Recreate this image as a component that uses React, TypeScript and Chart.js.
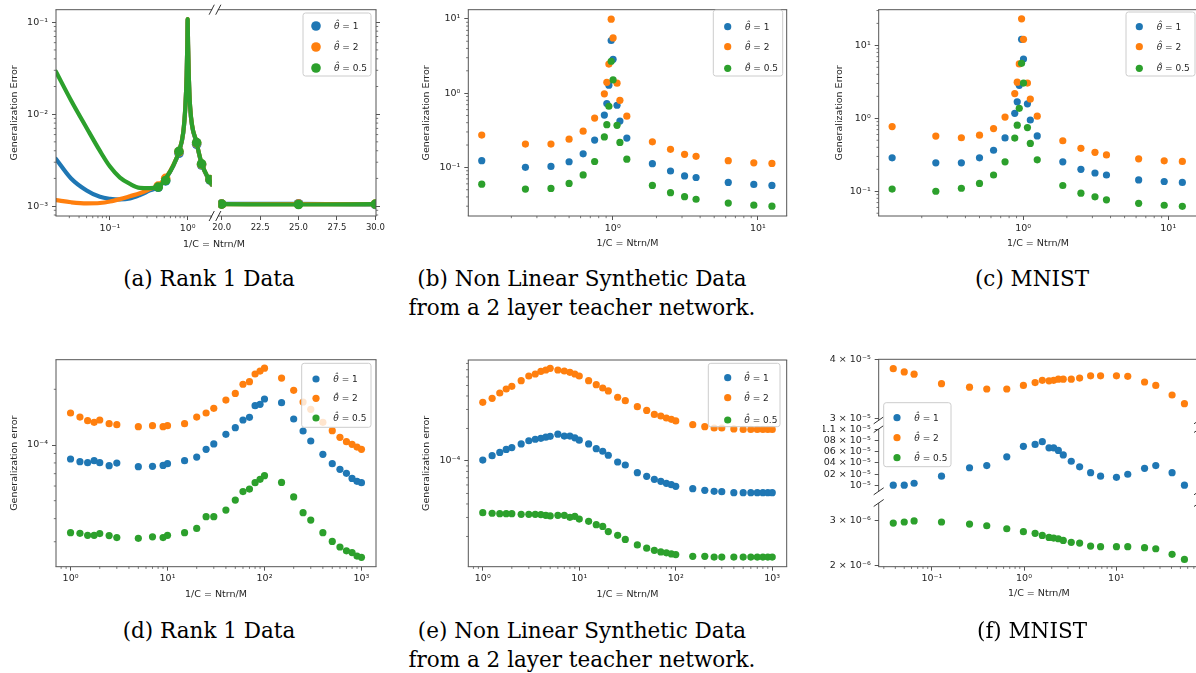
import React, { useEffect, useRef } from 'react';
import { Chart, registerables } from 'chart.js';

Chart.register(...registerables);

const FONT = "'DejaVu Sans', sans-serif";
const TICK_SIZE = 8.5;
const LOG_TICK_SIZE = 9.5;
const LEGEND_SIZE = 9;
const TITLE_SIZE = 9.5;
const TEXT = '#262626';
const SPINE = '#555555';
const BLUE = '#1f77b4';
const ORANGE = '#ff7f0e';
const GREEN = '#2ca02c';

Chart.defaults.font.family = FONT;
Chart.defaults.font.size = TICK_SIZE;
Chart.defaults.color = TEXT;

// ================= DATA =================
const legendLabels = ['1', '2', '0.5'];
const legendColors = [BLUE, ORANGE, GREEN];

// ---- (a) Rank 1 Data : theory curves + simulation markers ----
const aCurveX = [0.0202, 0.0316, 0.0501, 0.0743, 0.1, 0.1345, 0.181, 0.243, 0.327, 0.42, 0.537, 0.653, 0.773, 0.877, 0.935, 0.97, 0.99, 1.0, 1.012, 1.035, 1.075, 1.306, 1.51, 1.94, 2.04];
const aBlueCurve = [3.26e-3, 2.0e-3, 1.48e-3, 1.26e-3, 1.2e-3, 1.18e-3, 1.21e-3, 1.32e-3, 1.48e-3, 1.61e-3, 2.06e-3, 2.74e-3, 3.88e-3, 6.2e-3, 0.012, 0.0257, 0.057, 0.107, 0.057, 0.0257, 0.012, 4.85e-3, 2.9e-3, 1.83e-3, 1.7e-3];
const aOrangeCurve = [1.16e-3, 1.1e-3, 1.07e-3, 1.08e-3, 1.12e-3, 1.19e-3, 1.28e-3, 1.38e-3, 1.53e-3, 1.68e-3, 2.1e-3, 2.78e-3, 3.95e-3, 6.3e-3, 0.0122, 0.026, 0.058, 0.108, 0.058, 0.026, 0.0122, 4.9e-3, 2.93e-3, 1.84e-3, 1.71e-3];
const aGreenCurve = [0.029, 0.0141, 7.08e-3, 3.98e-3, 2.69e-3, 2.04e-3, 1.74e-3, 1.58e-3, 1.57e-3, 1.62e-3, 2.07e-3, 2.76e-3, 3.94e-3, 6.3e-3, 0.0122, 0.026, 0.058, 0.108, 0.058, 0.026, 0.0122, 4.91e-3, 2.95e-3, 1.85e-3, 1.72e-3];
const aMarkX = [0.418, 0.521, 0.773, 1.306, 1.51, 1.94];
const aBlueMark = [1.6e-3, 1.88e-3, 3.75e-3, 4.7e-3, 2.8e-3, 1.92e-3];
const aOrangeMark = [1.65e-3, 2.0e-3, 3.9e-3, 4.85e-3, 2.85e-3, 1.95e-3];
const aGreenMark = [1.61e-3, 1.9e-3, 3.94e-3, 4.91e-3, 2.88e-3, 1.94e-3];
const aRightX = [20, 25, 30];
const aBlueRight = [1.055e-3, 1.06e-3, 1.04e-3];
const aOrangeRight = [1.05e-3, 1.05e-3, 1.05e-3];
const aGreenRight = [1.05e-3, 1.04e-3, 1.05e-3];
const aXTicks = [0.1, 1];
const aXLabels = ['10⁻¹', '10⁰'];
const aRightXTicks = [20, 22.5, 25, 27.5, 30];
const aRightXLabels = ['20.0', '22.5', '25.0', '27.5', '30.0'];
const aYTicks = [1e-3, 1e-2, 1e-1];
const aYLabels = ['10⁻³', '10⁻²', '10⁻¹'];

// ---- (b) / (c) shared x values ----
const bcX = [0.125, 0.25, 0.375, 0.5, 0.625, 0.75, 0.875, 0.91, 0.94, 0.975, 1.005, 1.07, 1.12, 1.25, 1.875, 2.5, 3.125, 3.75, 6.25, 9.375, 12.5];
const bcXTicks = [1, 10];
const bcXLabels = ['10⁰', '10¹'];
const bcYTicks = [0.1, 1, 10];
const bcYLabels = ['10⁻¹', '10⁰', '10¹'];

// ---- (b) Non linear synthetic data ----
const bBlue = [0.123, 0.1, 0.103, 0.119, 0.152, 0.233, 0.506, 0.723, 1.28, 5.12, 2.86, 0.687, 0.421, 0.248, 0.112, 0.0893, 0.0766, 0.073, 0.0626, 0.0589, 0.0571];
const bOrange = [0.272, 0.206, 0.206, 0.24, 0.307, 0.461, 0.98, 1.4, 2.46, 9.9, 5.54, 1.36, 0.8, 0.49, 0.221, 0.175, 0.15, 0.141, 0.123, 0.115, 0.113];
const bGreen = [0.0594, 0.051, 0.052, 0.0607, 0.079, 0.12, 0.257, 0.376, 0.666, 2.69, 1.51, 0.369, 0.217, 0.129, 0.0571, 0.0456, 0.0403, 0.0372, 0.033, 0.031, 0.03];

// ---- (c) MNIST ----
const cBlue = [0.287, 0.245, 0.245, 0.287, 0.365, 0.538, 1.17, 1.68, 2.83, 12.1, 6.5, 1.58, 0.948, 0.573, 0.253, 0.2, 0.178, 0.167, 0.143, 0.136, 0.132];
const cOrange = [0.77, 0.57, 0.541, 0.588, 0.724, 1.04, 2.18, 3.13, 5.56, 23.1, 12.1, 3.04, 1.84, 1.07, 0.492, 0.388, 0.342, 0.315, 0.278, 0.261, 0.256];
const cGreen = [0.107, 0.1, 0.11, 0.128, 0.167, 0.253, 0.536, 0.804, 1.37, 5.67, 3.04, 0.746, 0.453, 0.27, 0.12, 0.0942, 0.084, 0.0764, 0.0684, 0.0643, 0.0622];

// ---- (d) Rank 1 data ----
const dX = [1, 1.25, 1.5, 1.75, 2, 2.5, 3, 5, 7, 9, 10, 15, 20, 25, 30, 40, 50, 60, 70, 80, 90, 100, 150, 200, 250, 300, 400, 500, 600, 700, 800, 900, 1000];
const dOrange = [1.489e-4, 1.416e-4, 1.354e-4, 1.326e-4, 1.365e-4, 1.304e-4, 1.288e-4, 1.256e-4, 1.272e-4, 1.256e-4, 1.272e-4, 1.304e-4, 1.416e-4, 1.489e-4, 1.578e-4, 1.75e-4, 1.9e-4, 2.13e-4, 2.2e-4, 2.42e-4, 2.51e-4, 2.6e-4, 2.3e-4, 1.975e-4, 1.708e-4, 1.558e-4, 1.326e-4, 1.195e-4, 1.1e-4, 1.042e-4, 1.008e-4, 0.975e-4, 0.948e-4];
const dBlue = [8.4e-5, 8.13e-5, 8.03e-5, 8.23e-5, 8.03e-5, 7.73e-5, 7.99e-5, 7.64e-5, 7.67e-5, 7.76e-5, 7.93e-5, 8.23e-5, 8.61e-5, 9.48e-5, 10.13e-5, 11.42e-5, 12.41e-5, 13.65e-5, 14.11e-5, 16.32e-5, 16.59e-5, 17.73e-5, 16.94e-5, 13.82e-5, 11.9e-5, 10.51e-5, 8.9e-5, 7.93e-5, 7.39e-5, 7.03e-5, 6.6e-5, 6.36e-5, 6.26e-5];
const dGreen = [3.36e-5, 3.33e-5, 3.25e-5, 3.25e-5, 3.32e-5, 3.24e-5, 3.16e-5, 3.13e-5, 3.19e-5, 3.16e-5, 3.25e-5, 3.36e-5, 3.54e-5, 4.1e-5, 4.1e-5, 4.45e-5, 5.04e-5, 5.6e-5, 5.78e-5, 6.26e-5, 6.52e-5, 6.83e-5, 6.28e-5, 5.24e-5, 4.31e-5, 3.93e-5, 3.36e-5, 3.01e-5, 2.81e-5, 2.68e-5, 2.62e-5, 2.51e-5, 2.47e-5];
const deXTicks = [1, 10, 100, 1000];
const deXLabels = ['10⁰', '10¹', '10²', '10³'];
const deYTicks = [1e-4];
const deYLabels = ['10⁻⁴'];

// ---- (e) Non linear synthetic data ----
const eX = [1, 1.25, 1.5, 1.75, 2, 2.5, 3, 3.5, 4, 4.5, 5, 6, 7, 8, 9, 10, 12.5, 15, 17.5, 20, 25, 30, 40, 50, 60, 70, 80, 90, 100, 150, 200, 250, 300, 400, 500, 600, 700, 800, 900, 1000];
const eOrange = [3.49e-4, 3.8e-4, 4.26e-4, 4.64e-4, 4.91e-4, 5.54e-4, 6.12e-4, 6.39e-4, 6.77e-4, 6.96e-4, 7.21e-4, 6.96e-4, 6.81e-4, 6.62e-4, 6.39e-4, 6.12e-4, 5.54e-4, 5.09e-4, 4.74e-4, 4.45e-4, 3.89e-4, 3.62e-4, 3.18e-4, 2.94e-4, 2.7e-4, 2.61e-4, 2.5e-4, 2.43e-4, 2.35e-4, 2.17e-4, 2.08e-4, 2.02e-4, 2.02e-4, 1.98e-4, 1.96e-4, 1.96e-4, 1.96e-4, 1.96e-4, 1.96e-4, 1.96e-4];
const eBlue = [1.02e-4, 1.12e-4, 1.2e-4, 1.28e-4, 1.33e-4, 1.44e-4, 1.54e-4, 1.59e-4, 1.62e-4, 1.66e-4, 1.69e-4, 1.77e-4, 1.7e-4, 1.7e-4, 1.64e-4, 1.56e-4, 1.44e-4, 1.3e-4, 1.23e-4, 1.13e-4, 0.979e-4, 0.918e-4, 0.78e-4, 0.721e-4, 0.676e-4, 0.648e-4, 0.621e-4, 0.604e-4, 0.582e-4, 0.554e-4, 0.535e-4, 0.524e-4, 0.52e-4, 0.509e-4, 0.509e-4, 0.509e-4, 0.509e-4, 0.509e-4, 0.509e-4, 0.509e-4];
const eGreen = [3.32e-5, 3.28e-5, 3.25e-5, 3.25e-5, 3.25e-5, 3.21e-5, 3.21e-5, 3.21e-5, 3.19e-5, 3.14e-5, 3.1e-5, 3.14e-5, 3.14e-5, 3.01e-5, 3.07e-5, 2.9e-5, 2.76e-5, 2.57e-5, 2.48e-5, 2.22e-5, 2.05e-5, 1.88e-5, 1.67e-5, 1.56e-5, 1.49e-5, 1.44e-5, 1.41e-5, 1.38e-5, 1.36e-5, 1.31e-5, 1.31e-5, 1.29e-5, 1.29e-5, 1.29e-5, 1.29e-5, 1.29e-5, 1.29e-5, 1.29e-5, 1.29e-5, 1.29e-5];

// ---- (f) MNIST (broken y axis) ----
const fX = [0.038, 0.05, 0.064, 0.127, 0.256, 0.394, 0.65, 0.985, 1.32, 1.58, 1.87, 2.1, 2.36, 2.67, 3.26, 4.02, 5.29, 6.79, 10.1, 13.4, 20.4, 27, 40.6, 55.3];
const fOrange = [3.82e-5, 3.76e-5, 3.72e-5, 3.55e-5, 3.49e-5, 3.46e-5, 3.46e-5, 3.52e-5, 3.57e-5, 3.61e-5, 3.6e-5, 3.61e-5, 3.63e-5, 3.63e-5, 3.63e-5, 3.65e-5, 3.69e-5, 3.69e-5, 3.69e-5, 3.68e-5, 3.58e-5, 3.52e-5, 3.36e-5, 3.22e-5];
const fBlue = [1.001e-5, 1.001e-5, 1.0042e-5, 1.0165e-5, 1.0312e-5, 1.035e-5, 1.0505e-5, 1.0696e-5, 1.0731e-5, 1.0782e-5, 1.0668e-5, 1.0668e-5, 1.0622e-5, 1.0539e-5, 1.0427e-5, 1.0328e-5, 1.0225e-5, 1.0165e-5, 1.0144e-5, 1.0198e-5, 1.0301e-5, 1.035e-5, 1.0225e-5, 1.001e-5];
const fGreen = [2.938e-6, 2.965e-6, 2.993e-6, 2.965e-6, 2.911e-6, 2.868e-6, 2.792e-6, 2.719e-6, 2.679e-6, 2.63e-6, 2.583e-6, 2.568e-6, 2.553e-6, 2.515e-6, 2.471e-6, 2.456e-6, 2.391e-6, 2.377e-6, 2.377e-6, 2.377e-6, 2.356e-6, 2.334e-6, 2.22e-6, 2.122e-6];
const fXTicks = [0.1, 1, 10];
const fXLabels = ['10⁻¹', '10⁰', '10¹'];
const fTopTicks = [3e-5, 4e-5];
const fTopLabels = ['3 × 10⁻⁵', '4 × 10⁻⁵'];
const fMidTicks = [1e-5, 1.02e-5, 1.04e-5, 1.06e-5, 1.08e-5, 1.1e-5];
const fMidLabels = ['10⁻⁵', '1.02 × 10⁻⁵', '1.04 × 10⁻⁵', '1.06 × 10⁻⁵', '1.08 × 10⁻⁵', '1.1 × 10⁻⁵'];
const fBotTicks = [2e-6, 3e-6];
const fBotLabels = ['2 × 10⁻⁶', '3 × 10⁻⁶'];

// ================= HELPERS =================
function logMinors(lo: number, hi: number): number[] {
  const out: number[] = [];
  for (let e = Math.floor(Math.log10(lo)); e <= Math.ceil(Math.log10(hi)); e++) {
    for (let k = 2; k <= 9; k++) {
      const v = k * Math.pow(10, e);
      if (v >= lo && v <= hi) out.push(v);
    }
  }
  return out;
}

const pts = (xs: number[], ys: number[]) => xs.map((x, i) => ({ x, y: ys[i] }));

function dots(xs: number[], ys: number[], color: string, order: number, r = 3.6) {
  return {
    data: pts(xs, ys), showLine: false, order,
    pointRadius: r, pointHoverRadius: r,
    pointBackgroundColor: color, pointBorderColor: color, pointBorderWidth: 0,
  };
}

function curve(xs: number[], ys: number[], color: string, order: number) {
  return {
    data: pts(xs, ys), showLine: true, order, fill: false,
    borderColor: color, borderWidth: 4.2, pointRadius: 0, pointHoverRadius: 0,
    cubicInterpolationMode: 'monotone', borderCapStyle: 'round', borderJoinStyle: 'round',
  };
}

function axisOptions(a: any, horizontal: boolean) {
  return {
    type: a.log ? 'logarithmic' : 'linear',
    position: a.position,
    display: a.display !== false,
    min: a.min,
    max: a.max,
    bounds: 'data',
    grid: { display: true, drawOnChartArea: false, drawTicks: true, tickLength: 4, tickWidth: 1, tickColor: SPINE },
    border: { display: false },
    ticks: {
      autoSkip: false, maxRotation: 0, minRotation: 0,
      padding: horizontal ? 2.5 : 4,
      color: TEXT,
      font: { family: FONT, size: a.log ? LOG_TICK_SIZE : TICK_SIZE },
      callback: (_v: any, i: number) => (a.labels[i] !== undefined ? a.labels[i] : ''),
    },
    title: a.title
      ? {
          display: true, text: a.title, color: TEXT,
          font: { family: FONT, size: TITLE_SIZE },
          padding: horizontal ? { top: 0, bottom: a.titlePad } : { top: a.titlePad, bottom: 0 },
        }
      : { display: false },
    afterBuildTicks: (s: any) => {
      s.ticks = a.majors.map((v: number) => ({ value: v }));
    },
    afterFit: (s: any) => {
      if (a.display === false) return;
      if (horizontal) s.height = a.size;
      else s.width = a.size;
    },
  };
}

function drawLegend(ctx: CanvasRenderingContext2D, L: any, ox: number, oy: number) {
  const x = L.x - ox;
  const y = L.y - oy;
  const r = 2.5;
  ctx.save();
  ctx.beginPath();
  ctx.moveTo(x + r, y);
  ctx.arcTo(x + L.w, y, x + L.w, y + L.h, r);
  ctx.arcTo(x + L.w, y + L.h, x, y + L.h, r);
  ctx.arcTo(x, y + L.h, x, y, r);
  ctx.arcTo(x, y, x + L.w, y, r);
  ctx.closePath();
  ctx.fillStyle = 'rgba(255,255,255,0.8)';
  ctx.fill();
  ctx.strokeStyle = '#cccccc';
  ctx.lineWidth = 1;
  ctx.stroke();
  legendColors.forEach((c, i) => {
    const cy = L.rows[i] - oy;
    ctx.beginPath();
    ctx.arc(L.mx - ox, cy, L.r, 0, Math.PI * 2);
    ctx.fillStyle = c;
    ctx.fill();
    ctx.fillStyle = TEXT;
    ctx.textBaseline = 'middle';
    ctx.textAlign = 'left';
    ctx.font = `italic ${LEGEND_SIZE}px ${FONT}`;
    const th = 'θ̂';
    ctx.fillText(th, L.tx - ox, cy + 0.5);
    const w = ctx.measureText(th).width;
    ctx.font = `${LEGEND_SIZE}px ${FONT}`;
    ctx.fillText(' = ' + legendLabels[i], L.tx - ox + w, cy + 0.5);
  });
  ctx.restore();
}

function decorPlugin(spec: any) {
  return {
    id: 'mplDecor',
    afterDraw(chart: any) {
      const ctx: CanvasRenderingContext2D = chart.ctx;
      const ca = chart.chartArea;
      ctx.save();
      // minor ticks
      ctx.strokeStyle = SPINE;
      ctx.lineWidth = 0.8;
      ctx.beginPath();
      const axes = [
        { a: spec.x, id: 'x', side: 'bottom' },
        { a: spec.y, id: 'y', side: spec.y.position },
      ];
      axes.forEach(({ a, id, side }) => {
        if (!a.minors || a.display === false) return;
        const sc = chart.scales[id];
        a.minors.forEach((v: number) => {
          if (v < sc.min || v > sc.max) return;
          const p = sc.getPixelForValue(v);
          if (side === 'bottom') { ctx.moveTo(p, ca.bottom); ctx.lineTo(p, ca.bottom + 2.2); }
          else if (side === 'left') { ctx.moveTo(ca.left, p); ctx.lineTo(ca.left - 2.2, p); }
          else { ctx.moveTo(ca.right, p); ctx.lineTo(ca.right + 2.2, p); }
        });
      });
      ctx.stroke();
      // frame (spines)
      const f = spec.frame;
      ctx.lineWidth = 1;
      ctx.strokeStyle = SPINE;
      ctx.beginPath();
      if (f.t) { ctx.moveTo(ca.left - 0.5, ca.top); ctx.lineTo(ca.right + 0.5, ca.top); }
      if (f.b) { ctx.moveTo(ca.left - 0.5, ca.bottom); ctx.lineTo(ca.right + 0.5, ca.bottom); }
      if (f.l) { ctx.moveTo(ca.left, ca.top); ctx.lineTo(ca.left, ca.bottom); }
      if (f.r) { ctx.moveTo(ca.right, ca.top); ctx.lineTo(ca.right, ca.bottom); }
      ctx.stroke();
      // break marks
      if (spec.breaks) {
        ctx.strokeStyle = '#333333';
        ctx.lineWidth = 1;
        ctx.beginPath();
        spec.breaks.forEach((b: any) => {
          const cx = b.side === 'left' ? ca.left : ca.right;
          const cy = b.edge === 'top' ? ca.top : ca.bottom;
          ctx.moveTo(cx - spec.breakW, cy + spec.breakH);
          ctx.lineTo(cx + spec.breakW, cy - spec.breakH);
        });
        ctx.stroke();
      }
      if (spec.legend) drawLegend(ctx, spec.legend, spec.left, spec.top);
      ctx.restore();
    },
  };
}

function buildConfig(spec: any) {
  return {
    type: 'scatter',
    data: { datasets: spec.datasets },
    options: {
      responsive: false,
      animation: false,
      events: [],
      layout: { padding: spec.padding },
      plugins: { legend: { display: false }, tooltip: { enabled: false } },
      scales: { x: axisOptions(spec.x, true), y: axisOptions(spec.y, false) },
    },
    plugins: [decorPlugin(spec)],
  };
}

// ================= PANELS =================
const aLeftYMin = 7.8e-4;
const aLeftYMax = 0.137;
const fLeft = 823;
const fYWidth = 878.7 - fLeft;

const panels: any[] = [
  // (a) left segment
  {
    left: 6, top: 0, w: 212, h: 254,
    padding: { left: 0, top: 7.3, right: 6.3, bottom: 0 },
    x: { log: true, min: 0.0202, max: 2.04, majors: aXTicks, labels: aXLabels, minors: logMinors(0.0202, 2.04), position: 'bottom', size: 38 },
    y: { log: true, min: aLeftYMin, max: aLeftYMax, majors: aYTicks, labels: aYLabels, minors: logMinors(aLeftYMin, aLeftYMax), position: 'left', size: 50, title: 'Generalization Error', titlePad: 3.3 },
    frame: { t: true, b: true, l: true, r: false },
    breaks: [{ side: 'right', edge: 'top' }, { side: 'right', edge: 'bottom' }], breakW: 2.6, breakH: 5,
    datasets: [
      dots(aMarkX, aGreenMark, GREEN, 0, 4.8),
      curve(aCurveX, aGreenCurve, GREEN, 1),
      dots(aMarkX, aOrangeMark, ORANGE, 2, 4.8),
      curve(aCurveX, aOrangeCurve, ORANGE, 3),
      dots(aMarkX, aBlueMark, BLUE, 4, 4.8),
      curve(aCurveX, aBlueCurve, BLUE, 5),
    ],
  },
  // (a) right segment
  {
    left: 206, top: 0, w: 190, h: 254,
    padding: { left: 12.3, top: 7.3, right: 14, bottom: 0 },
    x: { log: false, min: 19.78, max: 30.04, majors: aRightXTicks, labels: aRightXLabels, position: 'bottom', size: 38 },
    y: { log: true, min: aLeftYMin, max: aLeftYMax, majors: aYTicks, labels: ['', '', ''], minors: logMinors(aLeftYMin, aLeftYMax), position: 'right', size: 6 },
    frame: { t: true, b: true, l: false, r: true },
    breaks: [{ side: 'left', edge: 'top' }, { side: 'left', edge: 'bottom' }], breakW: 2.6, breakH: 5,
    legend: { x: 303, y: 13, w: 68, h: 63, rows: [26, 47, 68], mx: 316, tx: 334, r: 4.8 },
    datasets: [
      dots(aRightX, aGreenRight, GREEN, 0, 4.8),
      curve(aRightX, aGreenRight, GREEN, 1),
      dots(aRightX, aOrangeRight, ORANGE, 2, 4.8),
      curve(aRightX, aOrangeRight, ORANGE, 3),
      dots(aRightX, aBlueRight, BLUE, 4, 4.8),
      curve(aRightX, aBlueRight, BLUE, 5),
    ],
  },
  // (b)
  {
    left: 418, top: 0, w: 378, h: 254,
    padding: { left: 0, top: 6.7, right: 9.3, bottom: 0 },
    x: { log: true, min: 0.101, max: 15.8, majors: bcXTicks, labels: bcXLabels, minors: logMinors(0.101, 15.8), position: 'bottom', size: 38, title: '1/C = Ntrn/M', titlePad: 4.3 },
    y: { log: true, min: 0.02213, max: 13.3, majors: bcYTicks, labels: bcYLabels, minors: logMinors(0.02213, 13.3), position: 'left', size: 50.3, title: 'Generalization Error', titlePad: 3 },
    frame: { t: true, b: true, l: true, r: true },
    legend: { x: 713.3, y: 10, w: 69.4, h: 66, rows: [26.7, 46.7, 68.3], mx: 727.7, tx: 745, r: 3.6 },
    datasets: [dots(bcX, bGreen, GREEN, 0), dots(bcX, bOrange, ORANGE, 1), dots(bcX, bBlue, BLUE, 2)],
  },
  // (c)
  {
    left: 830, top: 0, w: 380, h: 254,
    padding: { left: 0, top: 7.3, right: 12.9, bottom: 0 },
    x: { log: true, min: 0.101, max: 15.8, majors: bcXTicks, labels: bcXLabels, minors: logMinors(0.101, 15.8), position: 'bottom', size: 38, title: '1/C = Ntrn/M', titlePad: 4.3 },
    y: { log: true, min: 0.0458, max: 30.8, majors: bcYTicks, labels: bcYLabels, minors: logMinors(0.0458, 30.8), position: 'left', size: 48.7, title: 'Generalization Error', titlePad: 3.6 },
    frame: { t: true, b: true, l: true, r: true },
    legend: { x: 1126, y: 12, w: 69, h: 64, rows: [26.7, 46.7, 68.3], mx: 1139.3, tx: 1156.7, r: 3.6 },
    datasets: [dots(bcX, cGreen, GREEN, 0), dots(bcX, cOrange, ORANGE, 1), dots(bcX, cBlue, BLUE, 2)],
  },
  // (d)
  {
    left: 6, top: 350, w: 380, h: 256,
    padding: { left: 0, top: 9.7, right: 10, bottom: 0 },
    x: { log: true, min: 0.7079, max: 1412.5, majors: deXTicks, labels: deXLabels, minors: logMinors(0.7079, 1412.5), position: 'bottom', size: 39.3, title: '1/C = Ntrn/M', titlePad: 5.3 },
    y: { log: true, min: 2.199e-5, max: 2.891e-4, majors: deYTicks, labels: deYLabels, minors: logMinors(2.199e-5, 2.891e-4), position: 'left', size: 50, title: 'Generalization error', titlePad: 3.3 },
    frame: { t: true, b: true, l: true, r: true },
    legend: { x: 301.7, y: 363.3, w: 69.3, h: 64, rows: [379, 398.3, 418], mx: 316, tx: 333.3, r: 3.6 },
    datasets: [dots(dX, dGreen, GREEN, 0), dots(dX, dOrange, ORANGE, 1), dots(dX, dBlue, BLUE, 2)],
  },
  // (e)
  {
    left: 418, top: 350, w: 378, h: 256,
    padding: { left: 0, top: 10, right: 9.3, bottom: 0 },
    x: { log: true, min: 0.7079, max: 1412.5, majors: deXTicks, labels: deXLabels, minors: logMinors(0.7079, 1412.5), position: 'bottom', size: 39.3, title: '1/C = Ntrn/M', titlePad: 5.3 },
    y: { log: true, min: 1.05e-5, max: 8.61e-4, majors: deYTicks, labels: deYLabels, minors: logMinors(1.05e-5, 8.61e-4), position: 'left', size: 50.3, title: 'Generalization error', titlePad: 3 },
    frame: { t: true, b: true, l: true, r: true },
    legend: { x: 708.3, y: 363.3, w: 71.7, h: 63.4, rows: [377.7, 397.7, 420], mx: 727.7, tx: 744.3, r: 3.6 },
    datasets: [dots(eX, eGreen, GREEN, 0), dots(eX, eOrange, ORANGE, 1), dots(eX, eBlue, BLUE, 2)],
  },
  // (f) top segment
  {
    left: fLeft, top: 345, w: 387, h: 85,
    padding: { left: 0, top: 14.3, right: 11, bottom: 5 },
    x: { log: true, min: 0.0264, max: 79.6, majors: fXTicks, labels: fXLabels, position: 'bottom', size: 0, display: false },
    y: { log: true, min: 2.969e-5, max: 4e-5, majors: fTopTicks, labels: fTopLabels, position: 'left', size: fYWidth },
    frame: { t: true, b: false, l: true, r: true },
    breaks: [{ side: 'left', edge: 'bottom' }, { side: 'right', edge: 'bottom' }], breakW: 5, breakH: 3.5,
    datasets: [dots(fX, fOrange, ORANGE, 0)],
  },
  // (f) middle segment
  {
    left: fLeft, top: 395, w: 387, h: 106,
    padding: { left: 0, top: 34, right: 11, bottom: 5 },
    x: { log: true, min: 0.0264, max: 79.6, majors: fXTicks, labels: fXLabels, position: 'bottom', size: 0, display: false },
    y: { log: true, min: 0.99051e-5, max: 1.1017e-5, majors: fMidTicks, labels: fMidLabels, position: 'left', size: fYWidth },
    frame: { t: false, b: false, l: true, r: true },
    breaks: [
      { side: 'left', edge: 'top' }, { side: 'left', edge: 'bottom' },
      { side: 'right', edge: 'top' }, { side: 'right', edge: 'bottom' },
    ],
    breakW: 5, breakH: 3.5,
    legend: { x: 883.7, y: 402.7, w: 67.3, h: 64, rows: [417.7, 437.7, 457.7], mx: 897, tx: 914.3, r: 3.6 },
    datasets: [dots(fX, fBlue, BLUE, 0)],
  },
  // (f) bottom segment
  {
    left: fLeft, top: 490, w: 387, h: 116,
    padding: { left: 0, top: 13, right: 11, bottom: 0 },
    x: { log: true, min: 0.0264, max: 79.6, majors: fXTicks, labels: fXLabels, minors: logMinors(0.0264, 79.6), position: 'bottom', size: 39.3, title: '1/C = Ntrn/M', titlePad: 6.3 },
    y: { log: true, min: 1.9875e-6, max: 3.515e-6, majors: fBotTicks, labels: fBotLabels, position: 'left', size: fYWidth },
    frame: { t: false, b: true, l: true, r: true },
    breaks: [{ side: 'left', edge: 'top' }, { side: 'right', edge: 'top' }], breakW: 5, breakH: 3.5,
    datasets: [dots(fX, fGreen, GREEN, 0)],
  },
];

function ChartCanvas({ spec }: { spec: any }) {
  const ref = useRef<HTMLCanvasElement | null>(null);
  useEffect(() => {
    const chart = new Chart(ref.current as HTMLCanvasElement, buildConfig(spec) as any);
    return () => chart.destroy();
  }, [spec]);
  return (
    <canvas
      ref={ref}
      width={spec.w}
      height={spec.h}
      style={{ position: 'absolute', left: spec.left, top: spec.top, width: spec.w, height: spec.h }}
    />
  );
}

const captionStyle: React.CSSProperties = {
  position: 'absolute',
  width: 460,
  textAlign: 'center',
  fontFamily: "'DejaVu Serif', serif",
  fontSize: 21.5,
  lineHeight: '29px',
  color: '#000',
  whiteSpace: 'nowrap',
};

const captions = [
  { cx: 209, top: 263.5, lines: ['(a) Rank 1 Data'] },
  { cx: 582, top: 263.5, lines: ['(b) Non Linear Synthetic Data', 'from a 2 layer teacher network.'] },
  { cx: 1032, top: 263.5, lines: ['(c) MNIST'] },
  { cx: 209, top: 615.5, lines: ['(d) Rank 1 Data'] },
  { cx: 582, top: 615.5, lines: ['(e) Non Linear Synthetic Data', 'from a 2 layer teacher network.'] },
  { cx: 1032, top: 615.5, lines: ['(f) MNIST'] },
];

export default function App() {
  return (
    <div
      style={{
        position: 'fixed', left: 0, top: 0, width: 1196, height: 673,
        overflow: 'hidden', background: '#ffffff',
      }}
    >
      {panels.map((p, i) => (
        <ChartCanvas key={i} spec={p} />
      ))}
      <div
        style={{
          position: 'absolute', left: 114, top: 237, width: 200, textAlign: 'center',
          fontFamily: FONT, fontSize: TITLE_SIZE, lineHeight: '14px', color: TEXT,
        }}
      >
        1/C = Ntrn/M
      </div>
      {captions.map((c, i) => (
        <div key={i} style={{ ...captionStyle, left: c.cx - 230, top: c.top }}>
          {c.lines.map((l, j) => (
            <div key={j}>{l}</div>
          ))}
        </div>
      ))}
    </div>
  );
}
